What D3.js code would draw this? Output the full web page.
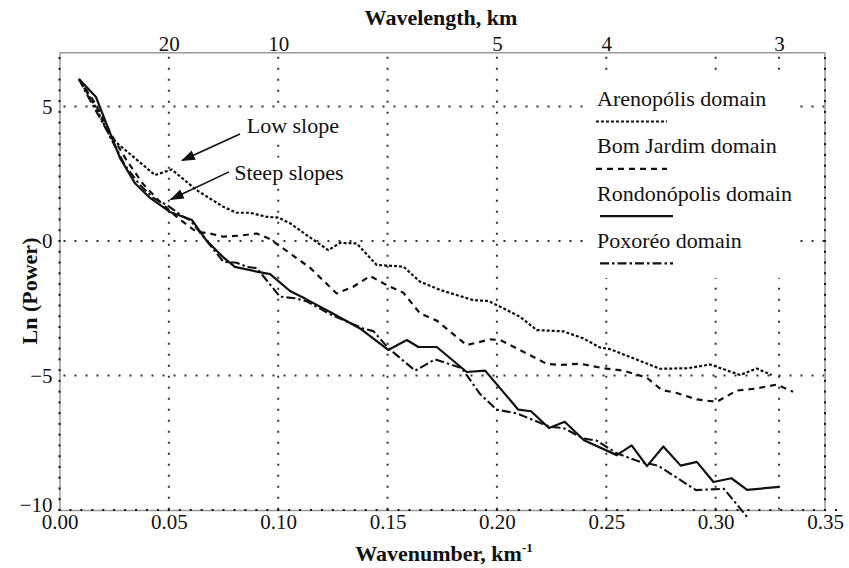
<!DOCTYPE html>
<html>
<head>
<meta charset="utf-8">
<script src="https://cdn.jsdelivr.net/npm/d3@7"></script>
<style>
  html, body { margin: 0; padding: 0; background: #fff; }
  svg { display: block; }
</style>
</head>
<body>
<svg id="chart" width="849" height="568"></svg>
<script>
// Radially averaged power spectra: wavenumber (km^-1) against ln(power), one pair of arrays per domain
const arenopolisK = [0.0089, 0.0162, 0.0235, 0.0437, 0.0513, 0.0627, 0.0749, 0.0810, 0.0871, 0.0947, 0.1000, 0.1054, 0.1130, 0.1229, 0.1283, 0.1359, 0.1450, 0.1572, 0.1648, 0.1740, 0.1816, 0.1892, 0.1961, 0.2014, 0.2106, 0.2182, 0.2304, 0.2395, 0.2471, 0.2517, 0.2624, 0.2746, 0.2874, 0.2974, 0.3112, 0.3188, 0.3256];
const arenopolisLnP = [6.02, 5.02, 3.83, 2.45, 2.66, 1.89, 1.27, 1.05, 1.05, 0.90, 0.87, 0.66, 0.22, -0.34, -0.07, -0.09, -0.89, -0.95, -1.51, -1.82, -2.01, -2.20, -2.23, -2.44, -2.82, -3.31, -3.36, -3.62, -3.96, -4.02, -4.36, -4.75, -4.73, -4.59, -4.98, -4.74, -4.98];

const bomJardimK = [0.0089, 0.0162, 0.0235, 0.0309, 0.0382, 0.0460, 0.0542, 0.0627, 0.0688, 0.0749, 0.0825, 0.0902, 0.0963, 0.1054, 0.1145, 0.1267, 0.1343, 0.1420, 0.1496, 0.1572, 0.1648, 0.1725, 0.1862, 0.1968, 0.2014, 0.2091, 0.2228, 0.2289, 0.2380, 0.2487, 0.2578, 0.2685, 0.2754, 0.2822, 0.2914, 0.3005, 0.3096, 0.3180, 0.3279, 0.3354];
const bomJardimLnP = [6.02, 5.13, 3.98, 2.97, 2.12, 1.45, 0.85, 0.34, 0.28, 0.16, 0.20, 0.28, 0.07, -0.46, -0.99, -1.95, -1.70, -1.30, -1.64, -1.92, -2.69, -2.96, -3.87, -3.66, -3.68, -3.99, -4.57, -4.61, -4.56, -4.73, -4.82, -5.08, -5.54, -5.65, -5.89, -5.98, -5.56, -5.49, -5.34, -5.60];

const rondonopolisK = [0.0089, 0.0167, 0.0222, 0.0277, 0.0345, 0.0414, 0.0505, 0.0565, 0.0606, 0.0670, 0.0748, 0.0802, 0.0902, 0.0963, 0.1054, 0.1127, 0.1237, 0.1374, 0.1503, 0.1588, 0.1641, 0.1725, 0.1862, 0.1946, 0.2098, 0.2156, 0.2238, 0.2310, 0.2398, 0.2548, 0.2616, 0.2686, 0.2761, 0.2840, 0.2914, 0.2990, 0.3072, 0.3144, 0.3291];
const rondonopolisLnP = [6.02, 5.35, 4.20, 3.08, 2.15, 1.60, 1.08, 0.90, 0.78, 0.04, -0.60, -0.96, -1.14, -1.23, -1.86, -2.16, -2.64, -3.25, -4.05, -3.68, -3.94, -3.94, -4.87, -4.82, -6.27, -6.33, -6.95, -6.72, -7.41, -7.96, -7.60, -8.37, -7.64, -8.35, -8.21, -8.96, -8.82, -9.25, -9.14];

const poxoreoK = [0.0089, 0.0139, 0.0216, 0.0299, 0.0368, 0.0429, 0.0490, 0.0566, 0.0597, 0.0749, 0.0810, 0.0856, 0.0902, 0.1008, 0.1077, 0.1130, 0.1237, 0.1388, 0.1435, 0.1503, 0.1626, 0.1717, 0.1840, 0.1923, 0.1999, 0.2091, 0.2243, 0.2304, 0.2395, 0.2456, 0.2548, 0.2654, 0.2737, 0.2910, 0.3038, 0.3144];
const poxoreoLnP = [6.02, 5.24, 4.12, 2.82, 2.08, 1.60, 1.34, 0.90, 0.78, -0.77, -0.81, -0.96, -1.01, -2.07, -2.13, -2.24, -2.72, -3.25, -3.35, -3.98, -4.82, -4.40, -4.73, -5.69, -6.27, -6.41, -6.91, -6.95, -7.34, -7.42, -7.89, -8.21, -8.35, -9.26, -9.21, -10.26];

const domainNames = ["Arenopólis domain", "Bom Jardim domain", "Rondonópolis domain", "Poxoréo domain"];

// Axis ticks
const wavenumberTicks = [0, 0.05, 0.10, 0.15, 0.20, 0.25, 0.30, 0.35];
const lnPowerTicks = [-10, -5, 0, 5];
const wavelengthTickK = [0.05, 0.10, 0.20, 0.25, 0.329];
const wavelengthTickLabels = ["20", "10", "5", "4", "3"];
const gridK = [0.05, 0.10, 0.15, 0.20, 0.25, 0.30, 0.329];
const gridLnP = [5, 0, -5];

// ---------------------------------------------------------------
const FONT = "'Liberation Serif', 'Times New Roman', Times, serif";
const svg = d3.select("#chart");
svg.append("rect").attr("width", 849).attr("height", 568).attr("fill", "#fff");

const x = d3.scaleLinear().domain([0, 0.35]).range([59.5, 825]);
const y = d3.scaleLinear().domain([-10, 7]).range([510, 52.7]);

const series = [
  { name: domainNames[0], k: arenopolisK, v: arenopolisLnP, dash: "3,2", width: 2.2 },
  { name: domainNames[1], k: bomJardimK, v: bomJardimLnP, dash: "6,5", width: 2.2 },
  { name: domainNames[2], k: rondonopolisK, v: rondonopolisLnP, dash: null, width: 2.2 },
  { name: domainNames[3], k: poxoreoK, v: poxoreoLnP, dash: "9,3,2.5,3", width: 2.1 }
];

// Dotted grid
const grid = svg.append("g")
  .attr("stroke", "#333").attr("stroke-width", 2).attr("stroke-dasharray", "2,9");
grid.selectAll("line.gv").data(gridK).join("line").attr("class", "gv")
  .attr("x1", d => x(d)).attr("x2", d => x(d))
  .attr("y1", y(7) + 4).attr("y2", y(-10));
grid.selectAll("line.gh").data(gridLnP).join("line").attr("class", "gh")
  .attr("x1", x(0) + 4).attr("x2", x(0.35))
  .attr("y1", d => y(d)).attr("y2", d => y(d));

// Frame: top and right borders, axes below/left
const frame = svg.append("g").attr("stroke", "#999").attr("stroke-width", 1.5).attr("fill", "none");
frame.append("line").attr("x1", x(0)).attr("x2", x(0.35)).attr("y1", y(7)).attr("y2", y(7));
frame.append("line").attr("x1", x(0.35)).attr("x2", x(0.35)).attr("y1", y(7)).attr("y2", y(-10));

const styleAxis = g => {
  g.select(".domain").attr("stroke", "#999").attr("stroke-width", 1.5);
  g.selectAll("text").attr("font-family", FONT).attr("font-size", 21).attr("fill", "#111");
};

svg.append("g").attr("transform", `translate(0,${y(-10)})`)
  .call(d3.axisBottom(x).tickValues(wavenumberTicks).tickFormat(d3.format(".2f")).tickSize(0).tickPadding(4))
  .call(styleAxis);

svg.append("g").attr("transform", `translate(${x(0)},0)`)
  .call(d3.axisLeft(y).tickValues(lnPowerTicks).tickSize(0).tickPadding(7))
  .call(styleAxis)
  // the bottom label sits just above the corner so it clears the 0.00 label
  .call(g => g.selectAll(".tick text").filter(d => d === -10).attr("dy", "0.05em"));

svg.append("g").attr("transform", `translate(0,${y(7)})`)
  .call(d3.axisTop(x).tickValues(wavelengthTickK).tickFormat((d, i) => wavelengthTickLabels[i]).tickSize(0).tickPadding(2))
  .call(g => g.select(".domain").remove())
  .call(styleAxis);

// Minor tick dots along the axes
const dots = svg.append("g").attr("fill", "#111");
dots.selectAll("rect.bx").data(d3.range(0, 0.3551, 0.005)).join("rect").attr("class", "bx")
  .attr("x", d => x(d) - 1).attr("y", y(-10) - 1).attr("width", 2).attr("height", 2);
const lnMinor = d3.range(-10, 7.01, 0.4);
dots.selectAll("rect.ly").data(lnMinor).join("rect").attr("class", "ly")
  .attr("x", x(0) - 1).attr("y", d => y(d) - 1).attr("width", 2).attr("height", 2);
dots.selectAll("rect.ry").data(lnMinor).join("rect").attr("class", "ry")
  .attr("x", x(0.35) - 1).attr("y", d => y(d) - 1).attr("width", 2).attr("height", 2);

// Spectra
const line = d3.line().x(d => x(d[0])).y(d => y(d[1]));
svg.append("g").selectAll("path").data(series).join("path")
  .attr("d", s => line(s.k.map((k, i) => [k, s.v[i]])))
  .attr("fill", "none").attr("stroke", "#111")
  .attr("stroke-width", s => s.width)
  .attr("stroke-dasharray", s => s.dash)
  .attr("stroke-linejoin", "round");

// Annotations with arrows
svg.append("defs").append("marker")
  .attr("id", "head").attr("markerUnits", "userSpaceOnUse")
  .attr("viewBox", "0 -6 14 12").attr("refX", 13).attr("refY", 0)
  .attr("markerWidth", 14).attr("markerHeight", 12).attr("orient", "auto")
  .append("path").attr("d", "M0,-5L14,0L0,5Z").attr("fill", "#111");

const notes = [
  { text: "Low slope", tk: 0.0856, tv: 4.0, from: [0.0825, 3.98], to: [0.0560, 2.99] },
  { text: "Steep slopes", tk: 0.0799, tv: 2.28, from: [0.0775, 2.57], to: [0.0508, 1.54] }
];
const noteG = svg.append("g");
notes.forEach(n => {
  const t = noteG.append("text")
    .attr("x", x(n.tk)).attr("y", y(n.tv))
    .attr("font-family", FONT).attr("font-size", 22).attr("fill", "#111")
    .text(n.text);
  const b = t.node().getBBox();
  noteG.insert("rect", "text")
    .attr("x", b.x - 4).attr("y", b.y - 2).attr("width", b.width + 8).attr("height", b.height + 4)
    .attr("fill", "#fff");
  noteG.append("line")
    .attr("x1", x(n.from[0])).attr("y1", y(n.from[1]))
    .attr("x2", x(n.to[0])).attr("y2", y(n.to[1]))
    .attr("stroke", "#111").attr("stroke-width", 1.6)
    .attr("marker-end", "url(#head)");
});

// Legend
const legend = svg.append("g").attr("transform", "translate(597,106)");
const rowStep = 47.3;
const legendBox = legend.append("rect").attr("fill", "#fff");
series.forEach((s, i) => {
  legend.append("text")
    .attr("x", 0).attr("y", i * rowStep)
    .attr("font-family", FONT).attr("font-size", 22).attr("fill", "#111")
    .text(s.name);
  legend.append("line")
    .attr("x1", i < 2 ? -1 : 3).attr("x2", i < 2 ? 70 : 76)
    .attr("y1", i * rowStep + 15.5).attr("y2", i * rowStep + 15.5)
    .attr("stroke", "#111").attr("stroke-width", s.width)
    .attr("stroke-dasharray", s.dash);
});
legendBox.attr("x", -12).attr("y", -28).attr("width", 215).attr("height", 3 * rowStep + 58);

// Axis titles
svg.append("text")
  .attr("x", 441).attr("y", 25).attr("text-anchor", "middle")
  .attr("font-family", FONT).attr("font-size", 22).attr("font-weight", "bold").attr("fill", "#111")
  .text("Wavelength, km");

const xTitle = svg.append("text")
  .attr("x", 444).attr("y", 561).attr("text-anchor", "middle")
  .attr("font-family", FONT).attr("font-size", 22).attr("font-weight", "bold").attr("fill", "#111");
xTitle.append("tspan").text("Wavenumber, km");
xTitle.append("tspan").attr("dy", -9).attr("font-size", 13).text("-1");

svg.append("text")
  .attr("transform", "translate(37,291) rotate(-90)").attr("text-anchor", "middle")
  .attr("font-family", FONT).attr("font-size", 22).attr("font-weight", "bold").attr("fill", "#111")
  .text("Ln (Power)");
</script>
</body>
</html>
